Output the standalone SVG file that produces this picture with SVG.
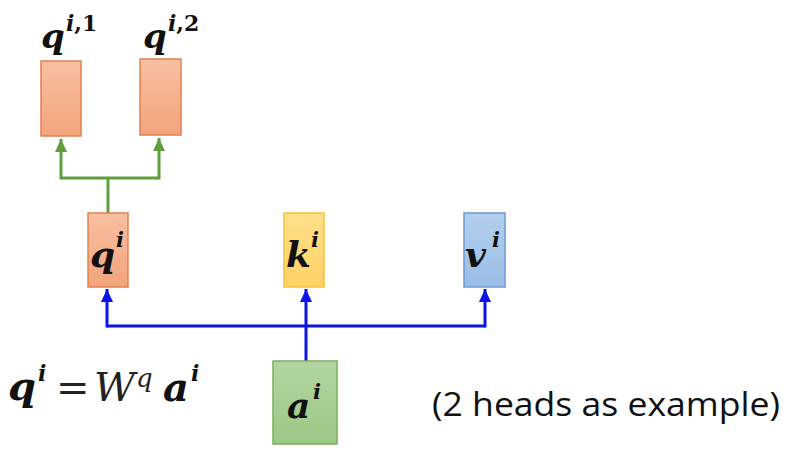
<svg xmlns="http://www.w3.org/2000/svg" width="794" height="453" viewBox="0 0 794 453">
<defs>
<linearGradient id="gOr" x1="0" y1="0" x2="0" y2="1"><stop offset="0" stop-color="#F8BFA0"/><stop offset="1" stop-color="#F3A47C"/></linearGradient>
<linearGradient id="gYe" x1="0" y1="0" x2="0" y2="1"><stop offset="0" stop-color="#FFE08A"/><stop offset="1" stop-color="#FFD166"/></linearGradient>
<linearGradient id="gBl" x1="0" y1="0" x2="0" y2="1"><stop offset="0" stop-color="#B4CFEE"/><stop offset="1" stop-color="#9ABDE6"/></linearGradient>
<linearGradient id="gGr" x1="0" y1="0" x2="0" y2="1"><stop offset="0" stop-color="#B3D5A0"/><stop offset="1" stop-color="#9CC886"/></linearGradient>
<marker id="aBlue" markerUnits="userSpaceOnUse" markerWidth="14" markerHeight="14" viewBox="0 0 14 14" refX="13" refY="7" orient="auto"><path d="M0,1 L13,7 L0,13 Z" fill="#0A14E6"/></marker>
<marker id="aGreen" markerUnits="userSpaceOnUse" markerWidth="14" markerHeight="14" viewBox="0 0 14 14" refX="13" refY="7" orient="auto"><path d="M0,1 L13,7 L0,13 Z" fill="#5E9E3C"/></marker>
<style>
.or{fill:url(#gOr);stroke:#E0814E;stroke-width:1.5}
.ye{fill:url(#gYe);stroke:#F2C23A;stroke-width:1.5}
.bl{fill:url(#gBl);stroke:#6C9BD2;stroke-width:1.5}
.gr{fill:url(#gGr);stroke:#7BAF5E;stroke-width:1.5}
.m{font-family:"DejaVu Serif","Liberation Serif",serif;font-style:italic;font-weight:bold;fill:#111}
.up{font-style:normal}
.mr{font-family:"DejaVu Serif","Liberation Serif",serif;font-style:italic;font-weight:normal;fill:#222}
.eq{font-family:"DejaVu Serif","Liberation Serif",serif;fill:#222}
.bw{fill:none;stroke:#0A14E6;stroke-width:3}
.gw{fill:none;stroke:#5E9E3C;stroke-width:3}
.t{font-family:"Open Sans","Liberation Sans",sans-serif;fill:#111}
</style>
</defs>
<rect width="794" height="453" fill="#fff"/>
<g id="connectors">
<path class="gw" d="M108,213 V178"/>
<path class="gw" d="M61,178 H159"/>
<path class="gw" d="M61,179.5 V139" marker-end="url(#aGreen)"/>
<path class="gw" d="M159,179.5 V138" marker-end="url(#aGreen)"/>
<path class="bw" d="M306,361 V289" marker-end="url(#aBlue)"/>
<path class="bw" d="M107,326 H485"/>
<path class="bw" d="M107,327.5 V289" marker-end="url(#aBlue)"/>
<path class="bw" d="M485,327.5 V289" marker-end="url(#aBlue)"/>
</g>
<g id="q1">
<rect class="or" x="41" y="61" width="40" height="75"/>
<text class="m" x="41" y="48" font-size="34">q</text>
<text class="m" x="66" y="31" font-size="22">i<tspan class="up">,1</tspan></text>
</g>
<g id="q2">
<rect class="or" x="140" y="59" width="41" height="76"/>
<text class="m" x="143" y="48" font-size="34">q</text>
<text class="m" x="168" y="31" font-size="22">i<tspan class="up">,2</tspan></text>
</g>
<g id="q">
<rect class="or" x="88" y="213" width="40" height="74"/>
<text class="m" x="90" y="267" font-size="36">q</text>
<text class="m" x="116" y="247" font-size="21">i</text>
</g>
<g id="k">
<rect class="ye" x="284" y="213" width="40" height="74"/>
<text class="m" x="286" y="267" font-size="36">k</text>
<text class="m" x="311" y="247" font-size="21">i</text>
</g>
<g id="v">
<rect class="bl" x="464" y="213" width="41" height="74"/>
<text class="m" x="465" y="267" font-size="36">v</text>
<text class="m" x="492" y="247" font-size="21">i</text>
</g>
<g id="a">
<rect class="gr" x="273" y="361" width="64" height="83"/>
<text class="m" x="287" y="418" font-size="36">a</text>
<text class="m" x="313" y="399" font-size="21">i</text>
</g>
<g id="formula">
<text class="m" x="8" y="400" font-size="40">q</text>
<text class="m" x="38" y="381" font-size="22">i</text>
<text class="eq" x="56" y="401" font-size="40">=</text>
<text class="mr" x="94" y="401" font-size="40">W</text>
<text class="mr" x="136" y="387" font-size="26">q</text>
<text class="m" x="163" y="401" font-size="40">a</text>
<text class="m" x="191" y="381" font-size="22">i</text>
</g>
<g id="note">
<text class="t" x="432" y="416" font-size="33" textLength="348" lengthAdjust="spacingAndGlyphs">(2 heads as example)</text>
</g>
</svg>
